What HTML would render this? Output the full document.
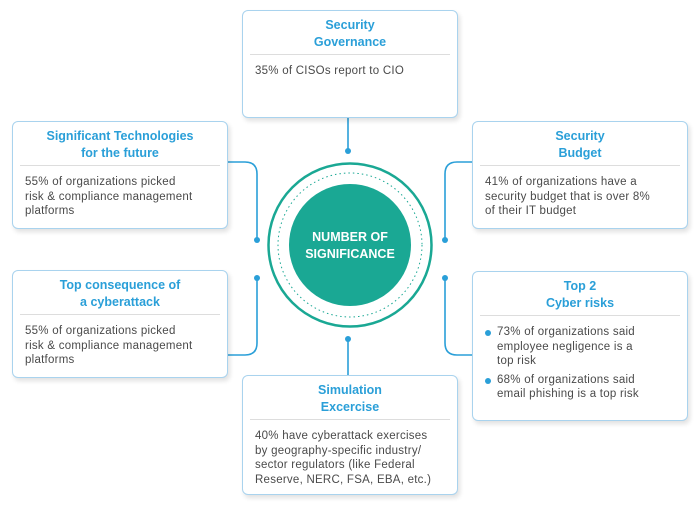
<!DOCTYPE html>
<html><head><style>
body{margin:0;width:700px;height:509px;background:#fff;position:relative;font-family:"Liberation Sans",sans-serif;overflow:hidden}
.b{position:absolute;border:1px solid #a9d3ee;border-radius:6px;background:#fff;box-shadow:2px 3px 5px rgba(0,0,0,0.12);box-sizing:border-box}
.t{color:#2a9fd8;font-weight:bold;font-size:12.5px;line-height:17px;text-align:center;margin:6px 7px 0;padding-bottom:3px;border-bottom:1.5px solid #ddd}
.x{color:#4a4a4a;font-size:11.5px;letter-spacing:0.25px;line-height:14.6px;margin:9px 12px 0}
.x ul{margin:0;padding:0;list-style:none}
.x li{position:relative;padding-left:12px;margin-bottom:4px}
.x li:before{content:"";position:absolute;left:0;top:5px;width:6px;height:6px;border-radius:50%;background:#2a9fd8}
</style></head><body>
<svg width="700" height="509" style="position:absolute;left:0;top:0">
<g stroke="#2a9fd8" stroke-width="1.6" fill="none">
<line x1="348" y1="117" x2="348" y2="151"/>
<line x1="348" y1="339" x2="348" y2="376"/>
<path d="M227 162 H245 Q257 162 257 174 V240"/>
<path d="M257 278 V343 Q257 355 245 355 H227"/>
<path d="M473 162 H457 Q445 162 445 174 V240"/>
<path d="M445 278 V343 Q445 355 457 355 H473"/>
</g>
<g fill="#2a9fd8">
<circle cx="348" cy="151" r="3"/><circle cx="348" cy="339" r="3"/>
<circle cx="257" cy="240" r="3"/><circle cx="257" cy="278" r="3"/>
<circle cx="445" cy="240" r="3"/><circle cx="445" cy="278" r="3"/>
</g>
<circle cx="350" cy="245" r="81.5" fill="#fff" stroke="#1aa894" stroke-width="2.5"/>
<circle cx="350" cy="245" r="72" fill="none" stroke="#1aa894" stroke-width="1" stroke-dasharray="1.5 3"/>
<circle cx="350" cy="245" r="61" fill="#1aa894"/>
<text x="350" y="241" fill="#fff" font-size="12.5" font-weight="bold" text-anchor="middle" font-family="Liberation Sans">NUMBER OF</text>
<text x="350" y="258" fill="#fff" font-size="12.5" font-weight="bold" text-anchor="middle" font-family="Liberation Sans">SIGNIFICANCE</text>
</svg>
<div class="b" style="left:242px;top:10px;width:216px;height:108px"><div class="t">Security<br>Governance</div><div class="x">35% of CISOs report to CIO</div></div>
<div class="b" style="left:12px;top:121px;width:216px;height:108px"><div class="t">Significant Technologies<br>for the future</div><div class="x">55% of organizations picked<br>risk &amp; compliance management<br>platforms</div></div>
<div class="b" style="left:12px;top:270px;width:216px;height:108px"><div class="t">Top consequence of<br>a cyberattack</div><div class="x">55% of organizations picked<br>risk &amp; compliance management<br>platforms</div></div>
<div class="b" style="left:472px;top:121px;width:216px;height:108px"><div class="t">Security<br>Budget</div><div class="x">41% of organizations have a<br>security budget that is over 8%<br>of their IT budget</div></div>
<div class="b" style="left:472px;top:271px;width:216px;height:150px"><div class="t">Top 2<br>Cyber risks</div><div class="x"><ul><li>73% of organizations said<br>employee negligence is a<br>top risk</li><li>68% of organizations said<br>email phishing is a top risk</li></ul></div></div>
<div class="b" style="left:242px;top:375px;width:216px;height:120px"><div class="t">Simulation<br>Excercise</div><div class="x">40% have cyberattack exercises<br>by geography-specific industry/<br>sector regulators (like Federal<br>Reserve, NERC, FSA, EBA, etc.)</div></div>
</body></html>
